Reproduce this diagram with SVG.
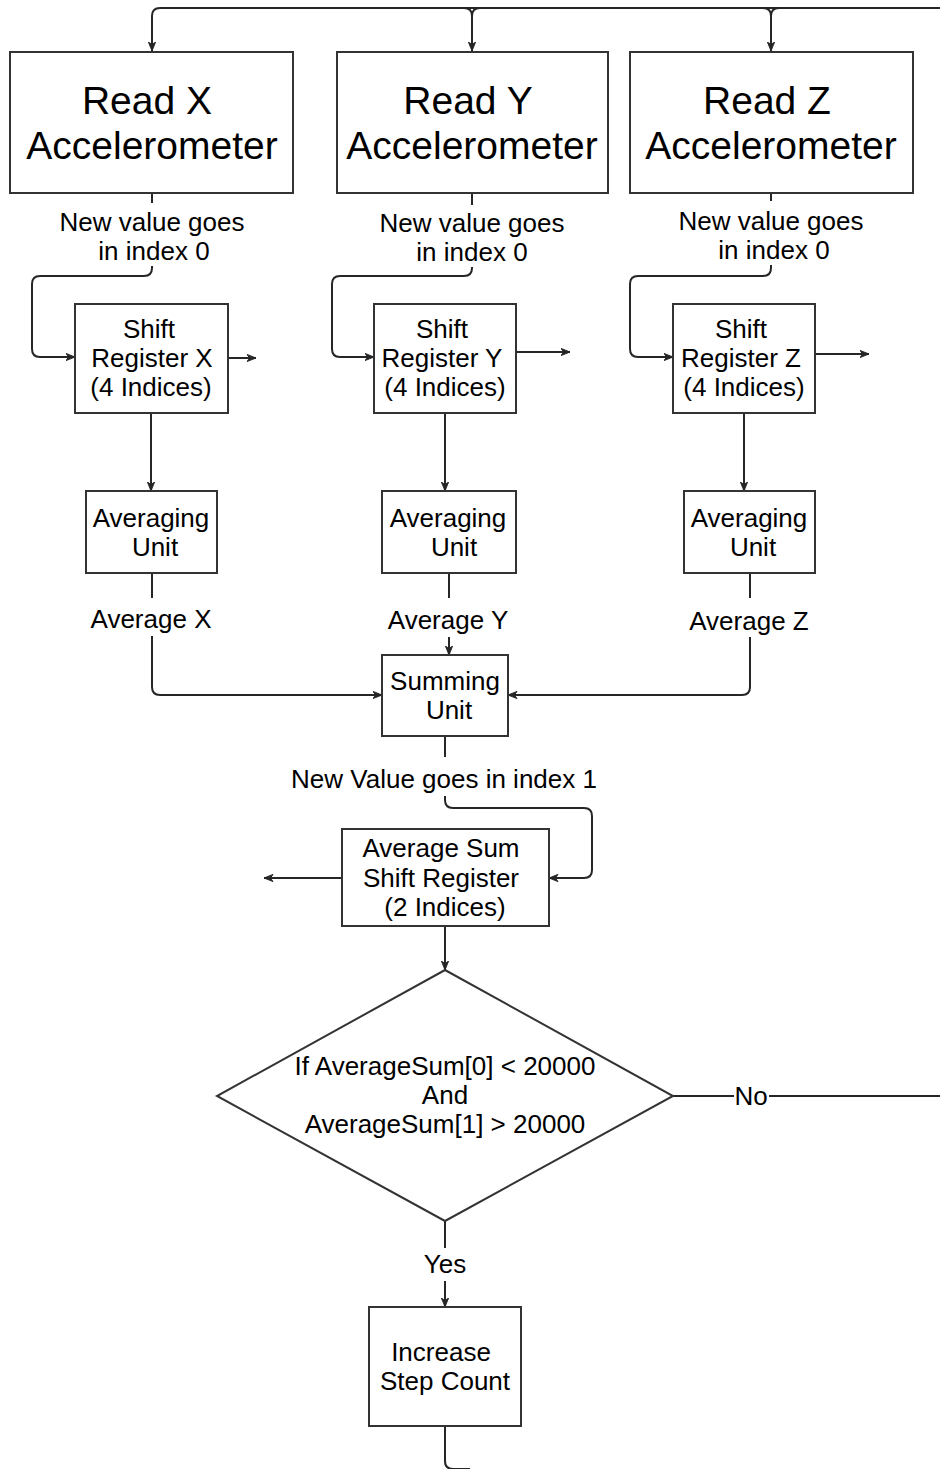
<svg xmlns="http://www.w3.org/2000/svg" width="940" height="1469" viewBox="0 0 940 1469">
  <style>
    .box { fill: #ffffff; stroke: #333333; stroke-width: 2; }
    .line { fill: none; stroke: #262626; stroke-width: 2; }
    .arrow { marker-end: url(#arrow-head); }
    text { font-family: "Liberation Sans", Arial, Helvetica, sans-serif; fill: #000000; text-anchor: middle; }
    .big { font-size: 39px; }
    .small { font-size: 26px; }
  </style>
  <defs>
    <marker id="arrow-head" viewBox="0 0 10 10" refX="9.5" refY="5" markerWidth="10" markerHeight="9" markerUnits="userSpaceOnUse" orient="auto" preserveAspectRatio="none">
      <path d="M0.5,1 L9.5,5 L0.5,9 L3,5 Z" fill="#262626" stroke="#262626" stroke-width="1" stroke-linejoin="miter"/>
    </marker>
  </defs>

  <rect width="940" height="1469" fill="#ffffff"/>

  <!-- connectors -->
  <g id="connectors">
    <!-- loop back into the three accelerometer reads -->
    <path class="line arrow" d="M940,8 H160 Q152,8 152,16 V51"/>
    <path class="line arrow" d="M464,8 Q472,8 472,16 V51"/>
    <path class="line" d="M480,8 Q472,8 472,16"/>
    <path class="line arrow" d="M763,8 Q771,8 771,16 V51"/>
    <path class="line" d="M779,8 Q771,8 771,16"/>

    <!-- accelerometer to shift register -->
    <path class="line" d="M152,193 V203"/>
    <path class="line arrow" d="M152,266 V268 Q152,276 144,276 H40 Q32,276 32,284 V349 Q32,357 40,357 H75"/>
    <path class="line" d="M472,193 V205"/>
    <path class="line arrow" d="M472,267 V268 Q472,276 464,276 H340 Q332,276 332,284 V349 Q332,357 340,357 H374"/>
    <path class="line" d="M771,193 V201"/>
    <path class="line arrow" d="M771,265 V268 Q771,276 763,276 H638 Q630,276 630,284 V349 Q630,357 638,357 H673"/>

    <!-- shift register outputs -->
    <path class="line arrow" d="M228,358 H256"/>
    <path class="line arrow" d="M516,352 H570"/>
    <path class="line arrow" d="M815,354 H869"/>

    <!-- shift register to averaging unit -->
    <path class="line arrow" d="M151,413 V491"/>
    <path class="line arrow" d="M445,413 V491"/>
    <path class="line arrow" d="M744,413 V491"/>

    <!-- averages into the summing unit -->
    <path class="line" d="M152,573 V598"/>
    <path class="line arrow" d="M152,636 V687 Q152,695 160,695 H382"/>
    <path class="line" d="M449,573 V598"/>
    <path class="line arrow" d="M449,637 V655"/>
    <path class="line" d="M750,573 V598"/>
    <path class="line arrow" d="M750,637 V687 Q750,695 742,695 H508"/>

    <!-- summing unit to average sum register -->
    <path class="line" d="M445,736 V757"/>
    <path class="line arrow" d="M445,796 V800 Q445,808 453,808 H584 Q592,808 592,816 V870 Q592,878 584,878 H549"/>
    <path class="line arrow" d="M342,878 H264"/>
    <path class="line arrow" d="M445,926 V970"/>

    <!-- decision branches -->
    <path class="line" d="M673,1096 H734"/>
    <path class="line" d="M769,1096 H940"/>
    <path class="line" d="M445,1221 V1248"/>
    <path class="line arrow" d="M445,1281 V1307"/>
    <path class="line" d="M445,1426 V1461 Q445,1469 453,1469 H470"/>
  </g>

  <!-- edge labels -->
  <g id="edge-labels">
    <text class="small" x="152" y="231">New value goes</text>
    <text class="small" x="154" y="260">in index 0</text>
    <text class="small" x="472" y="232">New value goes</text>
    <text class="small" x="472" y="261">in index 0</text>
    <text class="small" x="771" y="230">New value goes</text>
    <text class="small" x="774" y="259">in index 0</text>
    <text class="small" x="151" y="628">Average X</text>
    <text class="small" x="448" y="629">Average Y</text>
    <text class="small" x="749" y="630">Average Z</text>
    <text class="small" x="444" y="788">New Value goes in index 1</text>
    <text class="small" x="751" y="1105">No</text>
    <text class="small" x="445" y="1273">Yes</text>
  </g>

  <!-- accelerometer reads -->
  <g id="read-x">
    <rect class="box" x="10" y="52" width="283" height="141"/>
    <text class="big" x="147" y="114">Read X</text>
    <text class="big" x="152" y="159">Accelerometer</text>
  </g>
  <g id="read-y">
    <rect class="box" x="337" y="52" width="271" height="141"/>
    <text class="big" x="468" y="114">Read Y</text>
    <text class="big" x="472" y="159">Accelerometer</text>
  </g>
  <g id="read-z">
    <rect class="box" x="630" y="52" width="283" height="141"/>
    <text class="big" x="767" y="114">Read Z</text>
    <text class="big" x="771" y="159">Accelerometer</text>
  </g>

  <!-- shift registers -->
  <g id="shift-register-x">
    <rect class="box" x="75" y="304" width="153" height="109"/>
    <text class="small" x="149" y="338">Shift</text>
    <text class="small" x="152" y="367">Register X</text>
    <text class="small" x="151" y="396">(4 Indices)</text>
  </g>
  <g id="shift-register-y">
    <rect class="box" x="374" y="304" width="142" height="109"/>
    <text class="small" x="442" y="338">Shift</text>
    <text class="small" x="442" y="367">Register Y</text>
    <text class="small" x="445" y="396">(4 Indices)</text>
  </g>
  <g id="shift-register-z">
    <rect class="box" x="673" y="304" width="142" height="109"/>
    <text class="small" x="741" y="338">Shift</text>
    <text class="small" x="741" y="367">Register Z</text>
    <text class="small" x="744" y="396">(4 Indices)</text>
  </g>

  <!-- averaging units -->
  <g id="averaging-x">
    <rect class="box" x="86" y="491" width="131" height="82"/>
    <text class="small" x="151" y="527">Averaging</text>
    <text class="small" x="155" y="556">Unit</text>
  </g>
  <g id="averaging-y">
    <rect class="box" x="382" y="491" width="134" height="82"/>
    <text class="small" x="448" y="527">Averaging</text>
    <text class="small" x="454" y="556">Unit</text>
  </g>
  <g id="averaging-z">
    <rect class="box" x="684" y="491" width="131" height="82"/>
    <text class="small" x="749" y="527">Averaging</text>
    <text class="small" x="753" y="556">Unit</text>
  </g>

  <!-- summing unit -->
  <g id="summing-unit">
    <rect class="box" x="382" y="655" width="126" height="81"/>
    <text class="small" x="445" y="690">Summing</text>
    <text class="small" x="449" y="719">Unit</text>
  </g>

  <!-- average sum shift register -->
  <g id="average-sum-register">
    <rect class="box" x="342" y="829" width="207" height="97"/>
    <text class="small" x="441" y="857">Average Sum</text>
    <text class="small" x="441" y="887">Shift Register</text>
    <text class="small" x="445" y="916">(2 Indices)</text>
  </g>

  <!-- step decision -->
  <g id="step-decision">
    <polygon class="box" points="445,970 673,1096 445,1221 217,1096"/>
    <text class="small" x="445" y="1075">If AverageSum[0] &lt; 20000</text>
    <text class="small" x="445" y="1104">And</text>
    <text class="small" x="445" y="1133">AverageSum[1] &gt; 20000</text>
  </g>

  <!-- step counter -->
  <g id="increase-step-count">
    <rect class="box" x="369" y="1307" width="152" height="119"/>
    <text class="small" x="441" y="1361">Increase</text>
    <text class="small" x="445" y="1390">Step Count</text>
  </g>
</svg>
